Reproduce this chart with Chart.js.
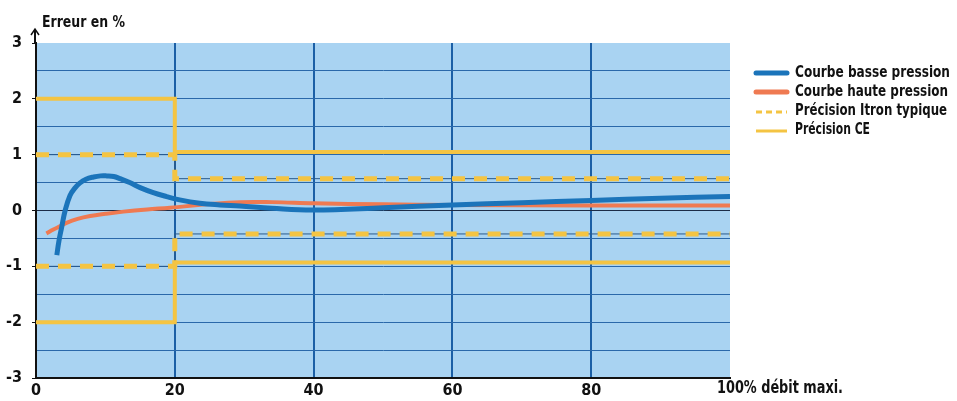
<!DOCTYPE html>
<html lang="fr">
<head>
<meta charset="utf-8">
<script src="https://cdn.jsdelivr.net/npm/chart.js@4.4.1/dist/chart.umd.min.js"></script>
<style>
body { margin: 0; background: #fff; }
#wrap { position: relative; width: 957px; height: 401px; }
</style>
</head>
<body>
<div id="wrap"><canvas id="graph"></canvas></div>
<script>
const FONT = '"Liberation Sans Narrow", "DejaVu Sans Condensed", "Arial Narrow", sans-serif';

// courbes (x = % du débit maxi, y = erreur en %)
const basseX = [3, 3.3, 3.7, 4.2, 4.9, 5.6, 6.3, 7.2, 8.3, 9.3, 10.2, 11.2, 12.1, 13.5, 15, 16.9, 18.8, 20.7, 23.6, 26.5, 29.4, 34, 40, 50, 60, 70, 80, 90, 100];
const basseY = [-0.8, -0.55, -0.3, 0, 0.27, 0.4, 0.49, 0.56, 0.6, 0.62, 0.62, 0.61, 0.57, 0.5, 0.41, 0.32, 0.25, 0.19, 0.13, 0.1, 0.08, 0.04, 0.01, 0.05, 0.1, 0.14, 0.18, 0.22, 0.25];
const hauteX = [1.5, 2.5, 3.5, 4.4, 6, 7.8, 10, 12.6, 16, 19.3, 24.6, 29.4, 34, 40, 50, 60, 80, 100];
const hauteY = [-0.41, -0.34, -0.28, -0.22, -0.15, -0.1, -0.06, -0.02, 0.02, 0.05, 0.11, 0.15, 0.15, 0.13, 0.11, 0.1, 0.09, 0.09];

// limites de précision, y = null : coupure entre limite haute et limite basse
const itronX = [0, 20, 20, 100, 100, 0, 20, 20, 100];
const itronY = [1, 1, 0.57, 0.57, null, -1, -1, -0.42, -0.42];
const ceX = [0, 20, 20, 100, 100, 0, 20, 20, 100];
const ceY = [2, 2, 1.05, 1.05, null, -2, -2, -0.93, -0.93];

const xLabels = ["0", "20", "40", "60", "80", "100% débit maxi."];
const legendes = ["Courbe basse pression", "Courbe haute pression", "Précision Itron typique", "Précision CE"];

const BLEU = "#1b74ba";
const ORANGE = "#ef7a52";
const JAUNE = "#f4c443";

function pts(xs, ys) {
    return xs.map((x, i) => ({ x: x, y: ys[i] }));
}

// fond bleu, flèche de l'axe, titres, légende
const decor = {
    id: "decor",
    beforeDraw(chart) {
        const a = chart.chartArea, c = chart.ctx;
        c.save();
        c.fillStyle = "#a9d3f2";
        c.fillRect(a.left, a.top, a.right - a.left, a.bottom - a.top);
        c.restore();
    },
    afterDraw(chart) {
        const a = chart.chartArea, c = chart.ctx;
        const xs = chart.scales.x;
        c.save();
        // flèche
        c.strokeStyle = "#111";
        c.lineWidth = 2;
        c.beginPath();
        c.moveTo(a.left - 1, a.top);
        c.lineTo(a.left - 1, 30);
        c.stroke();
        c.lineWidth = 1.5;
        c.beginPath();
        c.moveTo(a.left - 5, 35);
        c.lineTo(a.left - 1, 29);
        c.lineTo(a.left + 3, 35);
        c.stroke();

        c.fillStyle = "#111";
        c.font = "bold 16px " + FONT;
        c.textBaseline = "middle";
        c.textAlign = "left";
        c.fillText("Erreur en %", 42, 23, 83);

        // libellé du 100 %
        c.font = "bold 17px " + FONT;
        c.textBaseline = "top";
        c.fillText(xLabels[5], xs.getPixelForValue(100) - 13, 380, 126);

        // légende
        const ys = [73, 92, 111, 130];
        const largeurs = [155, 153, 152, 75];
        c.font = "bold 16px " + FONT;
        c.textBaseline = "middle";
        legendes.forEach((txt, i) => {
            const y = ys[i];
            c.setLineDash([]);
            if (i < 2) {
                c.strokeStyle = i === 0 ? BLEU : ORANGE;
                c.lineWidth = 5;
                c.lineCap = "round";
                c.beginPath();
                c.moveTo(756, y);
                c.lineTo(787, y);
                c.stroke();
            } else if (i === 2) {
                c.lineCap = "butt";
                c.strokeStyle = JAUNE;
                c.lineWidth = 3;
                c.setLineDash([6, 4]);
                c.beginPath();
                c.moveTo(756, y + 1);
                c.lineTo(787, y + 1);
                c.stroke();
            } else {
                c.lineCap = "butt";
                c.strokeStyle = JAUNE;
                c.lineWidth = 3;
                c.beginPath();
                c.moveTo(756, y + 1);
                c.lineTo(787, y + 1);
                c.stroke();
            }
            c.fillStyle = "#111";
            c.fillText(txt, 795, y, largeurs[i]);
        });
        c.restore();
    }
};

new Chart(document.getElementById("graph"), {
    type: "scatter",
    data: {
        datasets: [
            {
                label: legendes[0],
                data: pts(basseX, basseY),
                showLine: true,
                borderColor: BLEU,
                borderWidth: 5,
                tension: 0.4,
                pointRadius: 0,
            },
            {
                label: legendes[1],
                data: pts(hauteX, hauteY),
                showLine: true,
                borderColor: ORANGE,
                borderWidth: 4,
                tension: 0.4,
                pointRadius: 0,
            },
            {
                label: legendes[2],
                data: pts(itronX, itronY),
                showLine: true,
                borderColor: JAUNE,
                borderWidth: 5,
                borderDash: [13, 9],
                pointRadius: 0,
            },
            {
                label: "fil",
                data: pts(itronX, itronY),
                showLine: true,
                borderColor: "#2a5a8c",
                borderWidth: 1,
                pointRadius: 0,
            },
            {
                label: legendes[3],
                data: pts(ceX, ceY),
                showLine: true,
                borderColor: JAUNE,
                borderWidth: 4,
                pointRadius: 0,
            },
        ],
    },
    options: {
        responsive: true,
        maintainAspectRatio: false,
        animation: false,
        spanGaps: false,
        layout: { padding: { top: 43, right: 227, left: 0, bottom: 0 } },
        plugins: { legend: { display: false }, tooltip: { enabled: false } },
        scales: {
            x: {
                type: "linear",
                min: 0,
                max: 100,
                afterFit(s) { s.height = 23; },
                border: { display: true, color: "#111", width: 2 },
                grid: {
                    drawTicks: false,
                    color: (ctx) => (ctx.tick && (ctx.tick.value === 0 || ctx.tick.value === 100)) ? "rgba(0,0,0,0)" : "#1b5fa6",
                    lineWidth: 2,
                },
                ticks: {
                    stepSize: 20,
                    padding: 3,
                    maxRotation: 0,
                    color: "#111",
                    font: { family: FONT, size: 16, weight: "bold" },
                    callback: (v) => (v === 100 ? "" : xLabels[v / 20]),
                },
            },
            y: {
                min: -3,
                max: 3,
                afterFit(s) { s.width = 36; },
                border: { display: true, color: "#111", width: 2 },
                grid: {
                    tickLength: 4,
                    color: (ctx) => {
                        const v = ctx.tick ? ctx.tick.value : null;
                        if (v === 3 || v === -3) return "rgba(0,0,0,0)";
                        if (v === 0) return "#1c2c48";
                        return "#2a68aa";
                    },
                    tickColor: (ctx) => (ctx.tick && Number.isInteger(ctx.tick.value)) ? "#111" : "rgba(0,0,0,0)",
                    lineWidth: 1,
                },
                ticks: {
                    stepSize: 0.5,
                    padding: 10,
                    color: "#111",
                    font: { family: FONT, size: 16, weight: "bold" },
                    callback: (v) => (Number.isInteger(v) ? String(v) : ""),
                },
            },
        },
    },
    plugins: [decor],
});
</script>
</body>
</html>
